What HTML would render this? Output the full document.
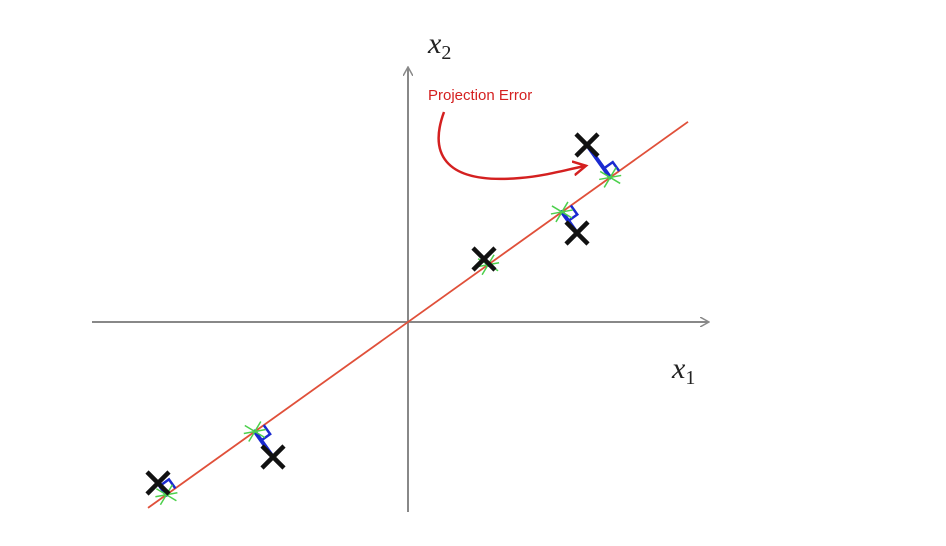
<!DOCTYPE html>
<html><head><meta charset="utf-8"><style>
html,body{margin:0;padding:0;background:#fff;}
svg{display:block;}
</style></head><body>
<svg id="chart" width="946" height="546" viewBox="0 0 946 546" xmlns="http://www.w3.org/2000/svg">
<defs>
<marker id="ah" markerWidth="10" markerHeight="10" refX="8" refY="5" orient="auto" markerUnits="userSpaceOnUse"><path d="M0,0 L9,5 L0,10" fill="none" stroke="#888" stroke-width="1.5"/></marker>
<marker id="rah" markerWidth="16" markerHeight="16" refX="12" refY="8" orient="auto" markerUnits="userSpaceOnUse"><path d="M0,1 L13,8 L0,15" fill="none" stroke="#d42020" stroke-width="2.5"/></marker>
</defs>
<line x1="92" y1="322" x2="708" y2="322" stroke="#888" stroke-width="2" marker-end="url(#ah)"/>
<line x1="408" y1="512" x2="408" y2="68" stroke="#888" stroke-width="2" marker-end="url(#ah)"/>
<text x="428" y="53" font-family="Liberation Serif, serif" font-style="italic" font-size="30" fill="#222">x<tspan font-style="normal" font-size="20" dy="6">2</tspan></text>
<text x="672" y="378" font-family="Liberation Serif, serif" font-style="italic" font-size="30" fill="#222">x<tspan font-style="normal" font-size="20" dy="6">1</tspan></text>
<text x="428" y="100" font-family="Liberation Sans, sans-serif" font-size="15" fill="#d42020">Projection Error</text>
<path d="M444,112 C430,150 440,185 520,178 C545,176 565,170 585,166" fill="none" stroke="#d42020" stroke-width="2.5" marker-end="url(#rah)"/>
<g id="marks"></g>
</svg>
<script>
const pointX = [1.79, 1.69, 0.76, -1.35, -2.50];
const pointY = [1.77, 0.89, 0.63, -1.35, -1.61];
const lineSlope = 0.715;
const lineRange = [-2.6, 2.80];
const ox = 408, oy = 322, sc = 100;
const sx = v => ox + v * sc;
const sy = v => oy - v * sc;
const NS = 'http://www.w3.org/2000/svg';
const g = document.getElementById('marks');
function mk(tag, attrs) {
  const e = document.createElementNS(NS, tag);
  for (const k in attrs) e.setAttribute(k, attrs[k]);
  g.appendChild(e);
  return e;
}
const rl = mk('line', {x1: sx(lineRange[0]), y1: sy(lineRange[0]*lineSlope), x2: sx(lineRange[1]), y2: sy(lineRange[1]*lineSlope), stroke: '#e0503a', 'stroke-width': 1.8});


const n = Math.hypot(1, lineSlope), ux = 1/n, uy = lineSlope/n;
for (let i = 0; i < pointX.length; i++) {
  const d = pointX[i]*ux + pointY[i]*uy;
  const px = d*ux, py = d*uy;
  const X = sx(pointX[i]), Y = sy(pointY[i]), PX = sx(px), PY = sy(py);
  const err = mk('line', {x1: X, y1: Y, x2: PX, y2: PY, stroke: '#1a2ad0', 'stroke-width': 4, 'stroke-linecap': 'round'});
  
  
  const len = Math.hypot(X-PX, Y-PY);
  if (len > 12) {
    const ax = (X-PX)/len, ay = (Y-PY)/len;
    const bx = ux, by = -uy, s = 11;
    const sq = mk('path', {d: `M${PX+ax*s},${PY+ay*s} L${PX+ax*s+bx*s},${PY+ay*s+by*s} L${PX+bx*s},${PY+by*s}`, fill: 'none', stroke: '#1a2ad0', 'stroke-width': 2.5});
    
    
  }
  const gr = mk('path', {d: `M${PX-10},${PY-6} L${PX+10},${PY+6} M${PX-6},${PY+10} L${PX+6},${PY-10} M${PX-11},${PY+2} L${PX+11},${PY-2}`, stroke: '#4cd04c', 'stroke-width': 1.5, fill: 'none'});
  
  
  const x = mk('path', {d: `M${X-11},${Y-11} L${X+11},${Y+11} M${X-11},${Y+11} L${X+11},${Y-11}`, stroke: '#111', 'stroke-width': 4.5, fill: 'none'});
  
  
}
</script>
</body></html>
